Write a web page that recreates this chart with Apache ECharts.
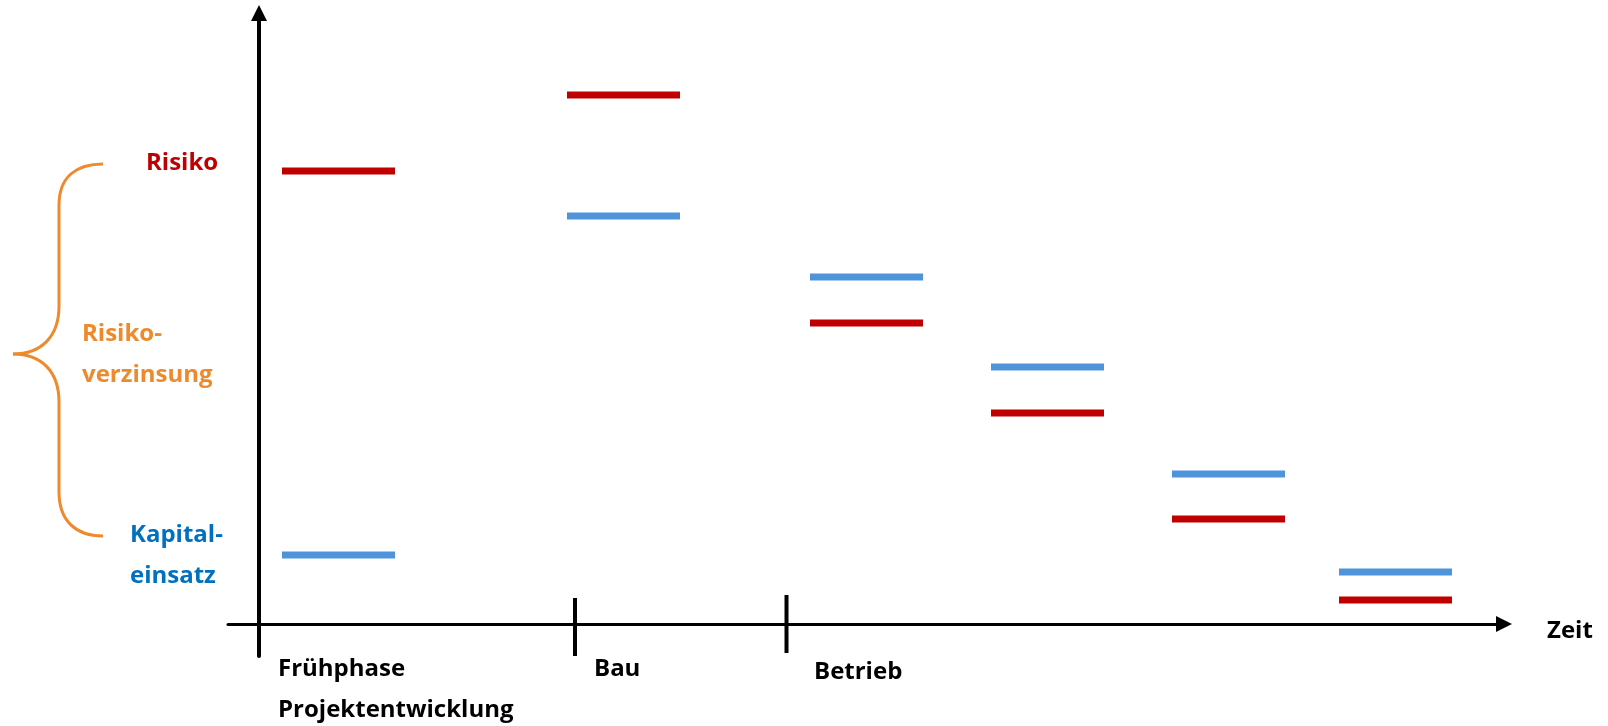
<!DOCTYPE html>
<html>
<head>
<meta charset="utf-8">
<script src="https://cdn.jsdelivr.net/npm/echarts@6/dist/echarts.min.js"></script>
<style>
  html, body { margin: 0; padding: 0; background: #fff; }
  #chart { width: 1608px; height: 726px; }
</style>
</head>
<body>
<div id="chart"></div>
<script>
// Project phases along the time axis: start and end of each level bar
const phaseStart = [2.3, 30.8, 55.1, 73.2, 91.3, 108.0];
const phaseEnd   = [13.6, 42.1, 66.4, 84.5, 102.6, 119.3];
// Level of risk and of capital employed per phase
const risiko  = [45.3, 52.9, 30.1, 21.1, 10.5, 2.4];
const kapital = [6.9, 40.8, 34.7, 25.7, 15.0, 5.2];
// Phase boundaries on the time axis (x, from, to)
const boundaryX    = [31.6, 52.75];
const boundaryTop  = [2.6, 2.9];
const boundaryBot  = [-3.2, -2.9];
// Phase names below the time axis
const phaseLabels = ['Frühphase\nProjektentwicklung', 'Bau', 'Betrieb'];

const RED = '#C00000';
const BLUE = '#4F93DB';
const ORANGE = '#EE8A2B';
const FONT = '"Open Sans", "DejaVu Sans", sans-serif';

function levelData(values) {
  return values.map((v, i) => [phaseStart[i], phaseEnd[i], v]);
}

function levelSeries(name, values, color) {
  return {
    type: 'custom',
    name: name,
    data: levelData(values),
    renderItem: function (params, api) {
      const a = api.coord([api.value(0), api.value(2)]);
      const b = api.coord([api.value(1), api.value(2)]);
      return {
        type: 'line',
        shape: { x1: a[0], y1: a[1], x2: b[0], y2: b[1] },
        style: { stroke: color, lineWidth: 7, lineCap: 'butt' }
      };
    }
  };
}

const boundarySeries = {
  type: 'custom',
  name: 'Phasengrenzen',
  data: boundaryX.map((x, i) => [x, boundaryTop[i], boundaryBot[i]]),
  renderItem: function (params, api) {
    const a = api.coord([api.value(0), api.value(1)]);
    const b = api.coord([api.value(0), api.value(2)]);
    return {
      type: 'line',
      shape: { x1: a[0], y1: a[1], x2: b[0], y2: b[1] },
      style: { stroke: '#000', lineWidth: 4 }
    };
  }
};

function txt(x, y, text, color, align) {
  return {
    type: 'text', x: x, y: y, silent: true,
    style: {
      text: text, fill: color, font: 'bold 24px ' + FONT,
      textAlign: align || 'left', textVerticalAlign: 'middle', lineHeight: 41
    }
  };
}

// pieces of the curly brace
const braceStyle = { fill: 'none', stroke: ORANGE, lineWidth: 3 };
function curve(x1, y1, c1x, c1y, c2x, c2y, x2, y2) {
  return {
    type: 'bezierCurve', silent: true,
    shape: { x1: x1, y1: y1, cpx1: c1x, cpy1: c1y, cpx2: c2x, cpy2: c2y, x2: x2, y2: y2 },
    style: braceStyle
  };
}
function seg(x1, y1, x2, y2) {
  return { type: 'line', silent: true, shape: { x1: x1, y1: y1, x2: x2, y2: y2 }, style: braceStyle };
}

const chart = echarts.init(document.getElementById('chart'), null, { renderer: 'canvas' });

chart.setOption({
  backgroundColor: '#fff',
  animation: false,
  grid: { left: 228, right: 104, top: 13, bottom: 70 },
  xAxis: {
    type: 'value', min: -3.1, max: 124.5,
    axisLine: {
      show: true, onZero: true,
      symbol: ['none', 'triangle'], symbolSize: [16, 16],
      lineStyle: { color: '#000', width: 3 }
    },
    axisTick: { show: false }, axisLabel: { show: false }, splitLine: { show: false }
  },
  yAxis: {
    type: 'value', min: -3.2, max: 61.1,
    axisLine: {
      show: true, onZero: true,
      symbol: ['none', 'triangle'], symbolSize: [16, 16],
      lineStyle: { color: '#000', width: 4 }
    },
    axisTick: { show: false }, axisLabel: { show: false }, splitLine: { show: false }
  },
  series: [
    levelSeries('Risiko', risiko, RED),
    levelSeries('Kapitaleinsatz', kapital, BLUE),
    boundarySeries
  ],
  graphic: [
    // curly brace spanning from risk down to capital employed
    curve(103, 164, 76, 164, 59, 177, 59, 205),
    seg(59, 205, 59, 306),
    curve(59, 306, 59, 337, 41, 354, 13, 354),
    curve(13, 354, 41, 354, 59, 371, 59, 402),
    seg(59, 402, 59, 492),
    curve(59, 492, 59, 521, 76, 536, 103, 536),
    txt(146, 163, 'Risiko', RED),
    txt(82, 355, 'Risiko-\nverzinsung', ORANGE),
    txt(130, 556, 'Kapital-\neinsatz', '#0070C0'),
    txt(278, 690, phaseLabels[0], '#000'),
    txt(594, 669, phaseLabels[1], '#000'),
    txt(814, 672, phaseLabels[2], '#000'),
    txt(1547, 631, 'Zeit', '#000')
  ]
});
</script>
</body>
</html>
